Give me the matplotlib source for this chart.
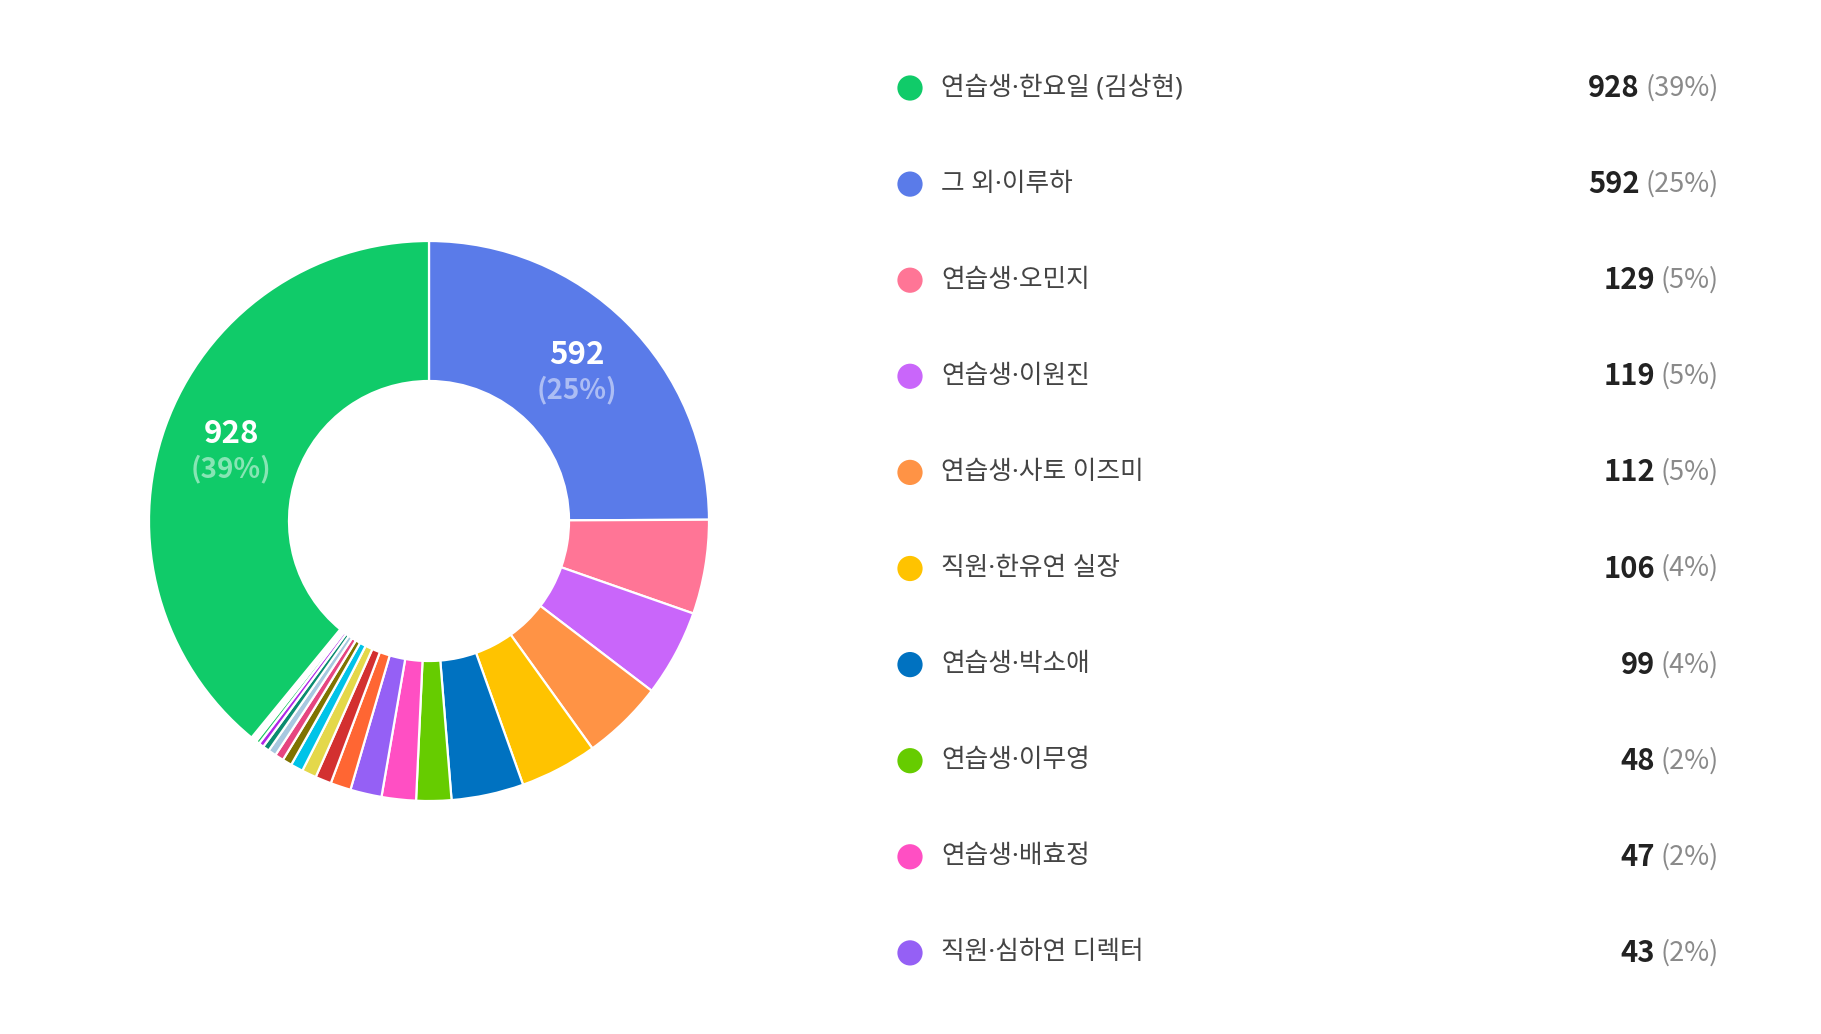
import matplotlib
matplotlib.use("Agg")
import matplotlib.pyplot as plt
import matplotlib.transforms as mtrans
import numpy as np

plt.rcParams['font.family'] = ['Noto Sans CJK KR', 'DejaVu Sans']
NAME_FONT = ['Noto Sans', 'Noto Sans CJK KR']  # narrow middle dot, Hangul from CJK

W, H = 1821, 1034

# top 10 shown in the legend
names = ['연습생·한요일 (김상현)', '그 외·이루하', '연습생·오민지', '연습생·이원진',
         '연습생·사토 이즈미', '직원·한유연 실장', '연습생·박소애', '연습생·이무영',
         '연습생·배효정', '직원·심하연 디렉터']
counts = [928, 592, 129, 119, 112, 106, 99, 48, 47, 43]
colors = ['#10cb69', '#5a7be9', '#ff7596', '#c966fa', '#ff9345',
          '#ffc300', '#0072c1', '#66cc00', '#ff4fc3', '#9560f5']

# the rest, only in the ring
other_counts = [28, 22, 20, 17, 13, 12, 11, 9, 7, 5, 1, 1, 1, 1, 1, 1, 1, 1]
other_colors = ['#ff6633', '#d33030', '#e4d84a', '#00c3e8', '#7f7300', '#e64580',
                '#a7c8e0', '#0a8b70', '#b026e8', '#20c964', '#5a7be9', '#f5b0c0',
                '#c0e0a0', '#a0c0f0', '#f0d090', '#d0a0f0', '#90e0e0', '#e0e0a0']

total = sum(counts) + sum(other_counts)

fig = plt.figure(figsize=(W / 100, H / 100), dpi=100)
fig.patch.set_facecolor('white')

# donut
cx, cy, R = 429, 521, 280
half = 300
ax = fig.add_axes([(cx - half) / W, (H - cy - half) / H, 2 * half / W, 2 * half / H])
ring_vals = counts[1:] + other_counts + counts[:1]
ring_cols = colors[1:] + other_colors + colors[:1]
wedges, _ = ax.pie(ring_vals, colors=ring_cols, startangle=90, counterclock=False,
                   radius=1.0, wedgeprops=dict(width=0.5, edgecolor='white', linewidth=1.6))
lim = half / R
ax.set_xlim(-lim, lim)
ax.set_ylim(-lim, lim)
ax.set_aspect('equal')
ax.axis('off')

for w, v in zip(wedges, ring_vals):
    if v / total < 0.2:
        continue
    ang = np.deg2rad((w.theta1 + w.theta2) / 2)
    x, y = 0.75 * np.cos(ang), 0.75 * np.sin(ang)
    ax.text(x, y + 0.06, f'{v}', ha='center', va='center', color='white',
            fontsize=22.5, fontweight='bold')
    ax.text(x, y - 0.065, f'({round(v / total * 100)}%)', ha='center', va='center',
            color='white', alpha=0.5, fontsize=20, fontweight='bold')

# legend, in pixel coordinates
lg = fig.add_axes([0, 0, 1, 1])
lg.set_xlim(0, W)
lg.set_ylim(H, 0)
lg.axis('off')

row0, step = 88, 96.1
mark_x, text_x, right_x = 910, 941, 1719
fig.canvas.draw()
rend = fig.canvas.get_renderer()
xpix = mtrans.blended_transform_factory(mtrans.IdentityTransform(), lg.transData)
for i, (n, v, c) in enumerate(zip(names, counts, colors)):
    y = row0 + i * step
    lg.scatter([mark_x], [y], s=330, color=c, edgecolors='none')
    lg.text(text_x, y, n, ha='left', va='center', fontsize=18.5, color='#444444',
            family=NAME_FONT, fontweight='medium')
    pct = lg.text(right_x, y, f'({round(v / total * 100)}%)', ha='right', va='center',
                  fontsize=19.5, color='#8a8a8a')
    bb = pct.get_window_extent(renderer=rend)
    lg.text(bb.x0 - 6, y, f'{v}', ha='right', va='center', fontsize=21,
            fontweight='bold', color='#222222', transform=xpix)

fig.savefig('out.png', dpi=100, facecolor='white')
